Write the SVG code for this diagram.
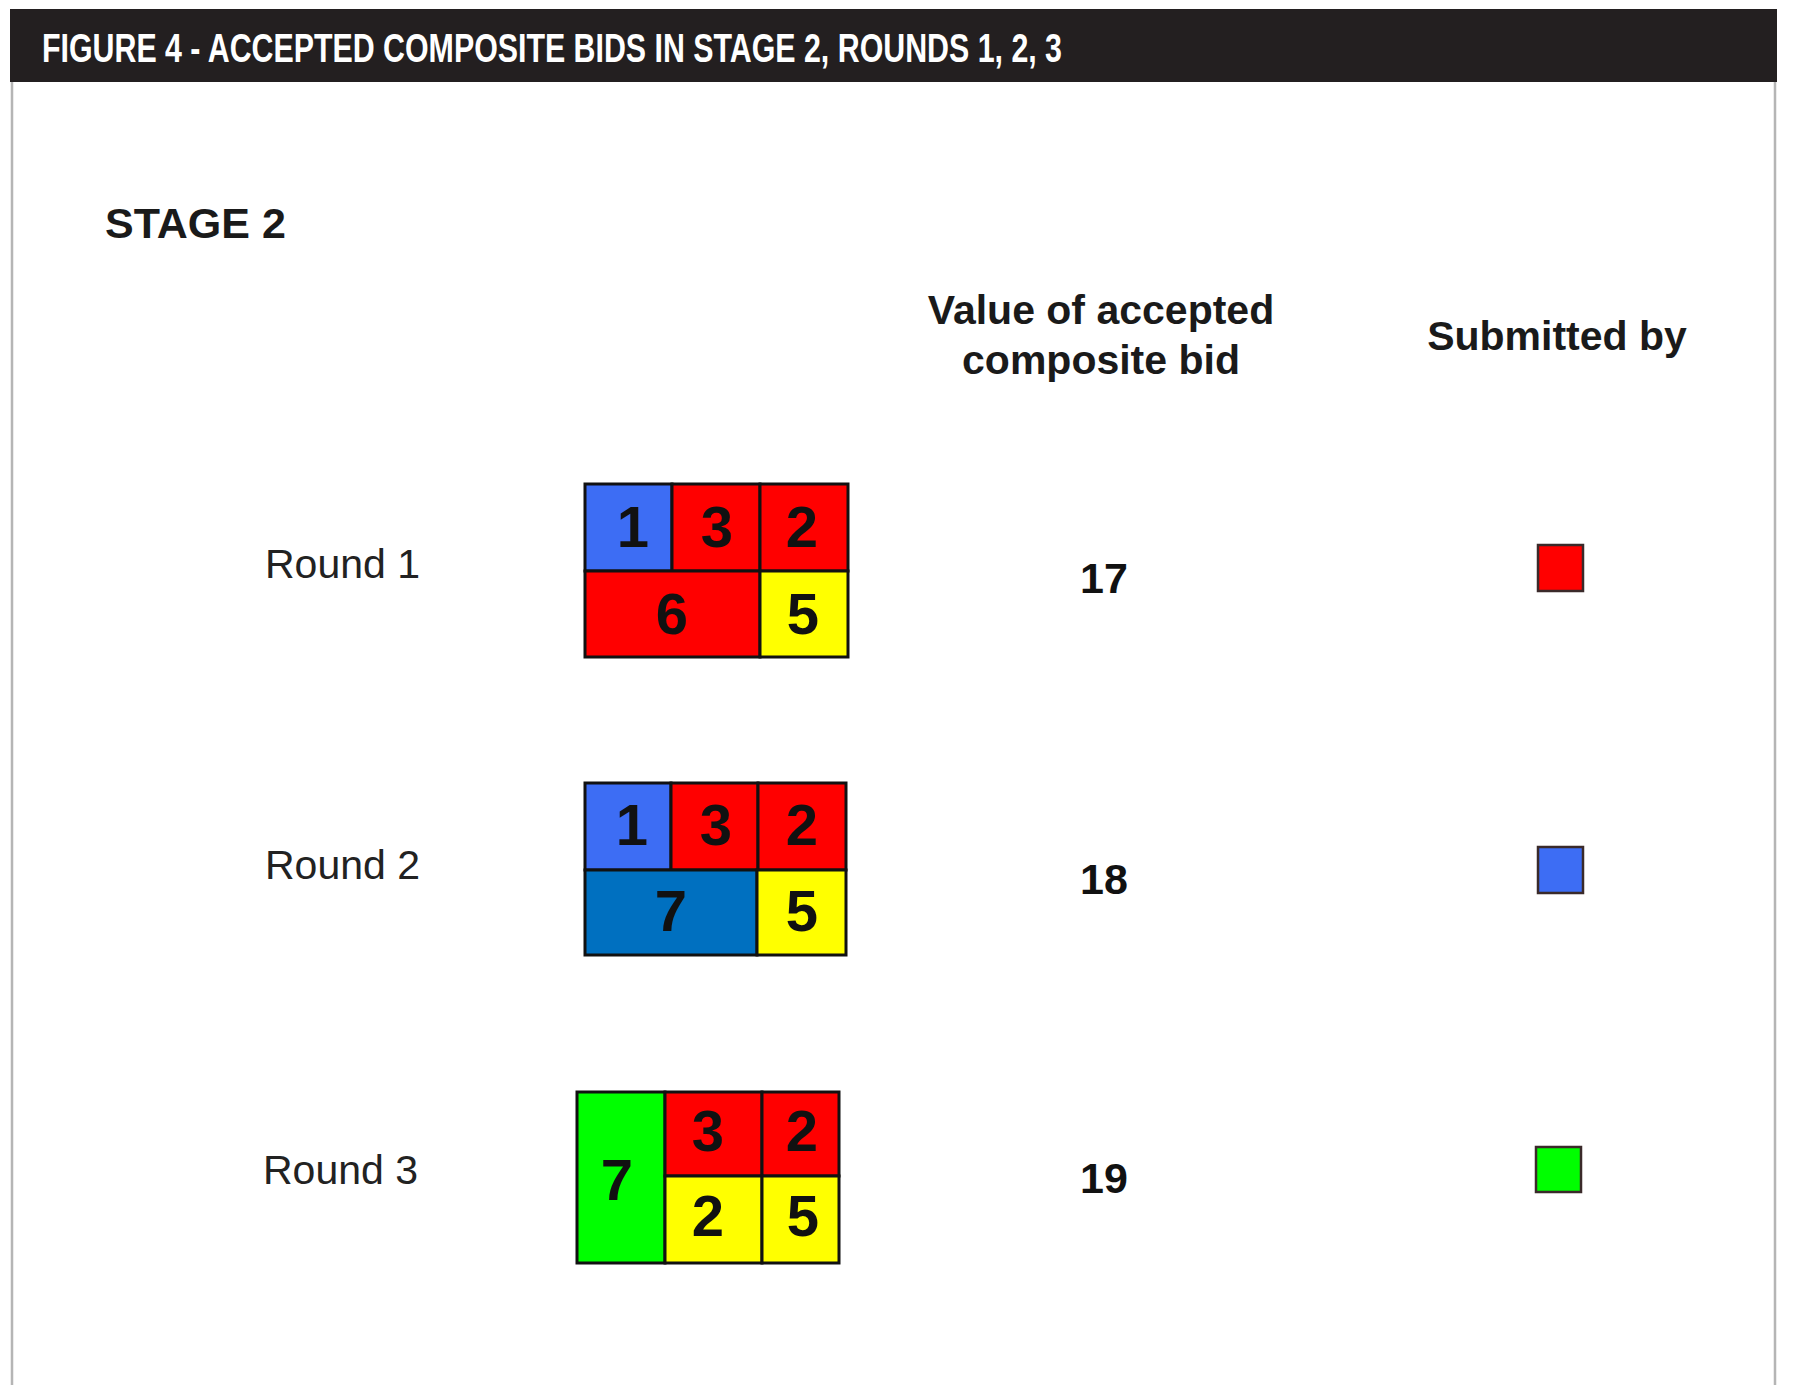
<svg xmlns="http://www.w3.org/2000/svg" width="1794" height="1385" viewBox="0 0 1794 1385">
<style>
.bg{fill:#ffffff}
.frame{stroke:#b5b5b5;stroke-width:2.5;fill:none}
.title{font-family:"Liberation Sans",Arial,sans-serif;font-weight:bold;font-size:40px;fill:#ffffff}
.stage{font-family:"Liberation Sans",Arial,sans-serif;font-weight:bold;font-size:43px;fill:#1a1a1a}
.hdr{font-family:"Liberation Sans",Arial,sans-serif;font-weight:bold;font-size:41px;fill:#1a1a1a;text-anchor:middle}
.round{font-family:"Liberation Sans",Arial,sans-serif;font-size:41px;fill:#222222}
.val{font-family:"Liberation Sans",Arial,sans-serif;font-weight:bold;font-size:43px;fill:#111111;text-anchor:middle}
.dig{font-family:"Liberation Sans",Arial,sans-serif;font-weight:bold;font-size:58px;fill:#111111;text-anchor:middle}
.cell{stroke:#111111;stroke-width:3}
.sq{stroke:#3a2a2a;stroke-width:2.5}
.red{fill:#ff0000}
.blue{fill:#3d6df4}
.dblue{fill:#0070c0}
.yellow{fill:#ffff00}
.green{fill:#00ff00}
</style>
<rect class="bg" x="0" y="0" width="1794" height="1385"/>
<g id="frame">
<line class="frame" x1="12" y1="82" x2="12" y2="1385"/>
<line class="frame" x1="1775" y1="82" x2="1775" y2="1385"/>
<rect x="10" y="9" width="1767" height="73" fill="#231f20"/>
<text class="title" x="42" y="62" textLength="1020" lengthAdjust="spacingAndGlyphs">FIGURE 4 - ACCEPTED COMPOSITE BIDS IN STAGE 2, ROUNDS 1, 2, 3</text>
</g>
<g id="stage-label"><text class="stage" x="105" y="238">STAGE 2</text></g>
<g id="header-value">
<text class="hdr" x="1101" y="324">Value of accepted</text>
<text class="hdr" x="1101" y="374">composite bid</text>
</g>
<g id="header-submitted"><text class="hdr" x="1557" y="350">Submitted by</text></g>

<g id="round1">
<text class="round" x="265" y="578">Round 1</text>
<g id="round1-grid">
<rect class="cell blue" x="585" y="484" width="87" height="87"/>
<rect class="cell red" x="672" y="484" width="88" height="87"/>
<rect class="cell red" x="760" y="484" width="88" height="87"/>
<rect class="cell red" x="585" y="571" width="175" height="86"/>
<rect class="cell yellow" x="760" y="571" width="88" height="86"/>
<text class="dig" x="633" y="547">1</text>
<text class="dig" x="717" y="547">3</text>
<text class="dig" x="802" y="547">2</text>
<text class="dig" x="672" y="634">6</text>
<text class="dig" x="803" y="634">5</text>
</g>
<text class="val" x="1104" y="593">17</text>
<rect class="sq red" x="1538" y="545" width="45" height="46"/>
</g>

<g id="round2">
<text class="round" x="265" y="879">Round 2</text>
<g id="round2-grid">
<rect class="cell blue" x="585" y="783" width="86" height="87"/>
<rect class="cell red" x="671" y="783" width="87" height="87"/>
<rect class="cell red" x="758" y="783" width="88" height="87"/>
<rect class="cell dblue" x="585" y="870" width="172" height="85"/>
<rect class="cell yellow" x="757" y="870" width="89" height="85"/>
<text class="dig" x="632" y="845">1</text>
<text class="dig" x="716" y="845">3</text>
<text class="dig" x="802" y="845">2</text>
<text class="dig" x="671" y="931">7</text>
<text class="dig" x="802" y="931">5</text>
</g>
<text class="val" x="1104" y="894">18</text>
<rect class="sq blue" x="1538" y="847" width="45" height="46"/>
</g>

<g id="round3">
<text class="round" x="263" y="1184">Round 3</text>
<g id="round3-grid">
<rect class="cell green" x="577" y="1092" width="88" height="171"/>
<rect class="cell red" x="665" y="1092" width="97" height="84"/>
<rect class="cell red" x="762" y="1092" width="77" height="84"/>
<rect class="cell yellow" x="665" y="1176" width="97" height="87"/>
<rect class="cell yellow" x="762" y="1176" width="77" height="87"/>
<text class="dig" x="617" y="1200">7</text>
<text class="dig" x="708" y="1151">3</text>
<text class="dig" x="802" y="1151">2</text>
<text class="dig" x="708" y="1236">2</text>
<text class="dig" x="803" y="1236">5</text>
</g>
<text class="val" x="1104" y="1193">19</text>
<rect class="sq green" x="1536" y="1147" width="45" height="45"/>
</g>
</svg>
